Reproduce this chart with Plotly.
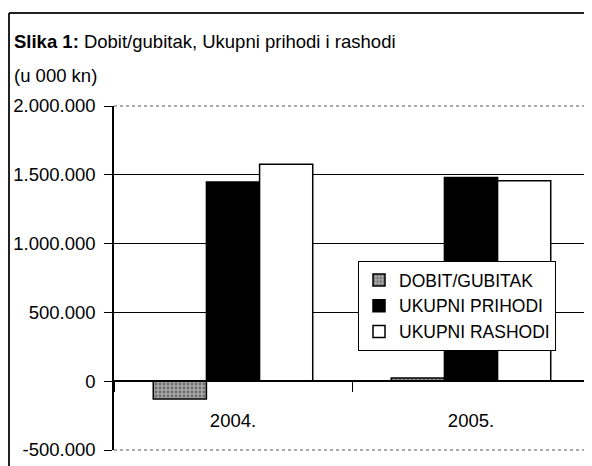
import plotly.graph_objects as go

years = ["2004.", "2005."]
dobit = [-129000, 24000]
prihodi = [1448000, 1480000]
rashodi = [1577000, 1456000]
names = ["DOBIT/GUBITAK", "UKUPNI PRIHODI", "UKUPNI RASHODI"]
ytickvals = [-500000, 0, 500000, 1000000, 1500000, 2000000]
yticktext = ["-500.000", "0", "500.000", "1.000.000", "1.500.000", "2.000.000"]

FONT = "Liberation Sans, Arial, sans-serif"

fig = go.Figure()
fig.add_trace(go.Bar(x=years, y=dobit, name=names[0],
                     marker=dict(color="#9a9a9a", line=dict(color="black", width=1.5),
                                 pattern=dict(shape=".", fgcolor="#333333", bgcolor="#a8a8a8",
                                              size=4, solidity=0.4))))
fig.add_trace(go.Bar(x=years, y=prihodi, name=names[1],
                     marker=dict(color="black", line=dict(color="black", width=1.5))))
fig.add_trace(go.Bar(x=years, y=rashodi, name=names[2],
                     marker=dict(color="white", line=dict(color="black", width=1.5))))

# page body has an 8px margin; work in window pixels, convert to figure
OFF = 8
W, H = 592 - OFF, 466 - OFF
L, R, T, B = 114 - OFF, 2, 106 - OFF, 16
pw, ph = W - L - R, H - T - B

def px(x):
    return (x - OFF - L) / pw

def py(y):
    return (H - B - (y - OFF)) / ph

shapes = [
    # outer frame
    dict(type="line", xref="paper", yref="paper", x0=px(9), x1=px(600), y0=py(13), y1=py(13),
         line=dict(color="#222", width=2)),
    dict(type="line", xref="paper", yref="paper", x0=px(9), x1=px(9), y0=py(13), y1=py(470),
         line=dict(color="#222", width=2)),
    # mask solid grid at top/bottom, then dotted plot border
    dict(type="line", xref="x domain", yref="y domain", x0=0, x1=1, y0=1, y1=1,
         line=dict(color="white", width=2), layer="above"),
    dict(type="line", xref="x domain", yref="y domain", x0=0, x1=1, y0=0, y1=0,
         line=dict(color="white", width=2), layer="above"),
    dict(type="line", xref="x domain", yref="y domain", x0=0, x1=1, y0=1, y1=1,
         line=dict(color="#555", width=1, dash="dot"), layer="above"),
    dict(type="line", xref="x domain", yref="y domain", x0=0, x1=1, y0=0, y1=0,
         line=dict(color="#555", width=1, dash="dot"), layer="above"),
    dict(type="line", xref="x domain", yref="y domain", x0=1, x1=1, y0=0, y1=1,
         line=dict(color="#555", width=1, dash="dot"), layer="above"),
]

annotations = [
    dict(text="<b>Slika 1:</b> Dobit/gubitak, Ukupni prihodi i rashodi", xref="paper", yref="paper",
         x=px(12), y=py(42), xanchor="left", yanchor="middle", showarrow=False,
         font=dict(family=FONT, size=18.5, color="black")),
    dict(text="(u 000 kn)", xref="paper", yref="paper",
         x=px(12), y=py(75), xanchor="left", yanchor="middle", showarrow=False,
         font=dict(family=FONT, size=18.5, color="black")),
]

fig.update_layout(
    width=W, height=H,
    margin=dict(l=L, r=R, t=T, b=B, pad=0),
    paper_bgcolor="white", plot_bgcolor="white",
    barmode="group", bargap=0.33, bargroupgap=0,
    font=dict(family=FONT, size=18.5, color="black"),
    shapes=shapes, annotations=annotations,
    legend=dict(x=px(358), y=py(261), xanchor="left", yanchor="top",
                bgcolor="white", bordercolor="black", borderwidth=1,
                font=dict(family=FONT, size=17.5),
                tracegroupgap=0, itemwidth=30),
    showlegend=True,
)
fig.update_yaxes(range=[-500000, 2000000], tickvals=ytickvals, ticktext=yticktext,
                 showgrid=True, gridcolor="black", gridwidth=1, zeroline=False,
                 showline=True, linecolor="black", linewidth=1.5,
                 ticks="outside", ticklen=8, tickcolor="black", ticklabelstandoff=5,
                 tickfont=dict(family=FONT, size=18.5))
fig.update_xaxes(anchor="free", position=0.2, showline=True, linecolor="black", linewidth=1.5,
                 ticks="outside", tickson="boundaries", ticklen=10, tickcolor="black",
                 showgrid=False, ticklabelstandoff=23,
                 tickfont=dict(family=FONT, size=18.5))

fig.write_html("out.html")
